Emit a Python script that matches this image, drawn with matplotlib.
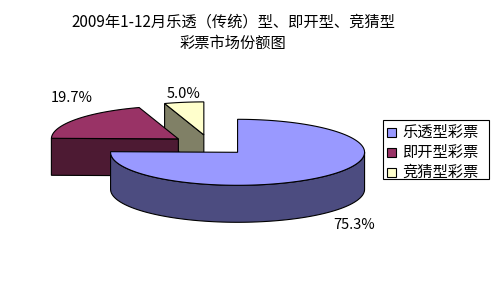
import numpy as np
import matplotlib.pyplot as plt
from matplotlib.patches import Polygon, Rectangle

plt.rcParams['font.family'] = ['Noto Sans CJK SC', 'DejaVu Sans']

categories = ['乐透型彩票', '即开型彩票', '竞猜型彩票']
shares = [75.3, 19.7, 5.0]
pct_labels = ['75.3%', '19.7%', '5.0%']
title_lines = ['2009年1-12月乐透（传统）型、即开型、竞猜型', '彩票市场份额图']

top_colors = ['#9999FF', '#993366', '#FFFFCC']
side_colors = ['#4C4C80', '#4D1A33', '#808066']

W, H = 496, 307
fig = plt.figure(figsize=(W / 100, H / 100), dpi=100)
ax = fig.add_axes([0, 0, 1, 1])
ax.set_xlim(0, W)
ax.set_ylim(H, 0)
ax.axis('off')

# pie layout (pixels)
cx, cy = 210, 145
rx, ry = 127, 33
depth = 37
explode = 0.31
label_pos = [(354, 225), (72, 98), (184, 94)]


def pt(c, theta, r=1.0, dz=0.0):
    t = np.radians(theta)
    return (c[0] + r * rx * np.sin(t), c[1] - r * ry * np.cos(t) + dz)


def arc(c, a, b, dz=0.0):
    ts = np.linspace(a, b, max(int(abs(b - a) / 2) + 2, 4))
    return [pt(c, t, 1.0, dz) for t in ts]


total = sum(shares)
angles = np.cumsum([0] + [s / total * 360 for s in shares])
slices = []
for i in range(len(shares)):
    a, b = angles[i], angles[i + 1]
    mid = (a + b) / 2
    c = pt((cx, cy), mid, explode)
    slices.append((i, a, b, c))

lw = 0.8
order = sorted(slices, key=lambda s: s[3][1])
for z, (i, a, b, c) in enumerate(order):
    zb = 10 * z
    # radial faces
    if np.sin(np.radians(a)) < -1e-6:
        p = pt(c, a)
        ax.add_patch(Polygon([c, p, (p[0], p[1] + depth), (c[0], c[1] + depth)],
                             closed=True, fc=side_colors[i], ec='black', lw=lw, zorder=zb + 1))
    if np.sin(np.radians(b)) > 1e-6:
        p = pt(c, b)
        ax.add_patch(Polygon([c, p, (p[0], p[1] + depth), (c[0], c[1] + depth)],
                             closed=True, fc=side_colors[i], ec='black', lw=lw, zorder=zb + 1))
    # outer side
    lo, hi = max(a, 90), min(b, 270)
    if hi > lo:
        top = arc(c, lo, hi)
        bot = arc(c, hi, lo, dz=depth)
        ax.add_patch(Polygon(top + bot, closed=True, fc=side_colors[i], ec='black',
                             lw=lw, zorder=zb + 2))
    # top face
    ax.add_patch(Polygon([c] + arc(c, a, b), closed=True, fc=top_colors[i],
                         ec='black', lw=lw, zorder=zb + 3))
    ax.text(label_pos[i][0], label_pos[i][1], pct_labels[i], ha='center', va='center',
            fontsize=10.5, color='black', zorder=50)

# title
ax.text(233, 22, title_lines[0], ha='center', va='center', fontsize=11)
ax.text(233, 43, title_lines[1], ha='center', va='center', fontsize=11)

# legend
ax.add_patch(Rectangle((383, 120), 106, 59, fc='white', ec='black', lw=0.8, zorder=60))
ys = [132, 152, 172]
for i, name in enumerate(categories):
    ax.add_patch(Rectangle((387, ys[i] - 4.5), 9, 9, fc=top_colors[i], ec='black',
                           lw=0.8, zorder=61))
    ax.text(402, ys[i], name, ha='left', va='center', fontsize=11, zorder=62)

fig.savefig('out.png', dpi=100)
